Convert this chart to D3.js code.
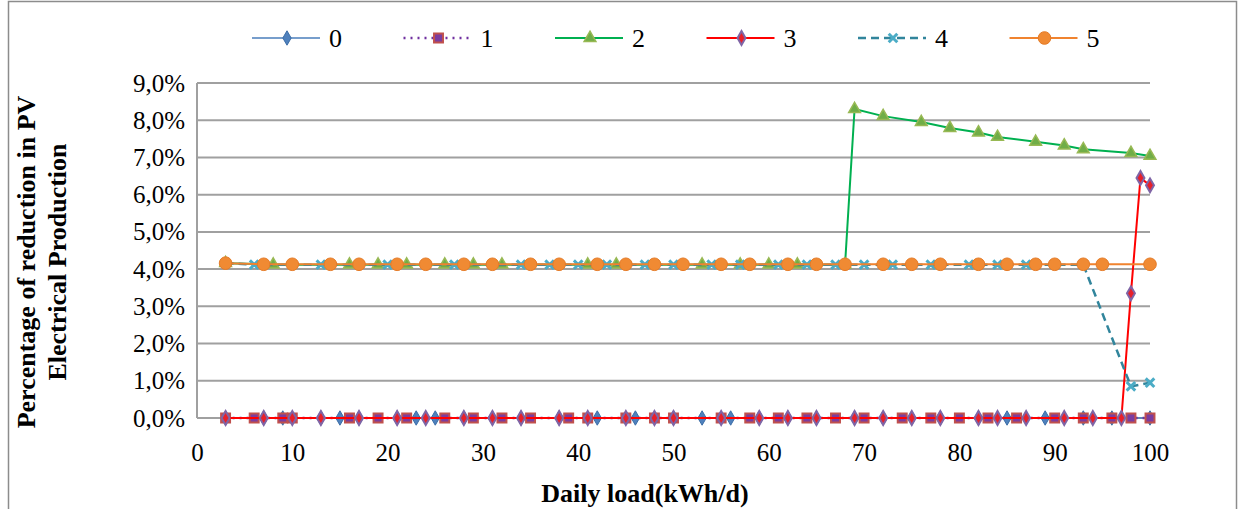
<!DOCTYPE html>
<html>
<head>
<meta charset="utf-8">
<script src="https://cdn.jsdelivr.net/npm/d3@7"></script>
<style>
  body { margin: 0; background: #fff; }
  svg { display: block; font-family: "Liberation Serif", "Times New Roman", serif; }
</style>
</head>
<body>
<svg id="chart" width="1245" height="509"></svg>
<script>
// ── Data ─────────────────────────────────────────────────────────────────────
const seriesNames = ["0", "1", "2", "3", "4", "5"];
const xTicks = [0, 10, 20, 30, 40, 50, 60, 70, 80, 90, 100];
const yTicks = [0, 1, 2, 3, 4, 5, 6, 7, 8, 9];   // percent

const s0X = [3, 7, 9, 13, 15, 17, 21, 23, 25, 28, 31, 34, 38, 42, 46, 50, 53, 56, 59, 62, 65, 69, 72, 75, 78, 82, 85, 89, 93, 96, 100];
const s0Y = [0, 0, 0, 0, 0, 0, 0, 0, 0, 0, 0, 0, 0, 0, 0, 0, 0, 0, 0, 0, 0, 0, 0, 0, 0, 0, 0, 0, 0, 0, 0];

const s1X = [3, 6, 9, 10, 16, 19, 22, 26, 29, 32, 35, 39, 41, 45, 48, 50, 55, 58, 61, 64, 67, 70, 74, 77, 80, 83, 86, 90, 93, 96, 98, 100];
const s1Y = [0, 0, 0, 0, 0, 0, 0, 0, 0, 0, 0, 0, 0, 0, 0, 0, 0, 0, 0, 0, 0, 0, 0, 0, 0, 0, 0, 0, 0, 0, 0, 0];

const s2X = [3, 8, 16, 19, 22, 26, 29, 32, 41, 44, 53, 57, 60, 63, 68, 69, 72, 76, 79, 82, 84, 88, 91, 93, 98, 100];
const s2Y = [4.16, 4.12, 4.12, 4.12, 4.12, 4.12, 4.12, 4.12, 4.12, 4.12, 4.12, 4.12, 4.12, 4.12, 4.12,
             8.30, 8.11, 7.95, 7.79, 7.67, 7.55, 7.42, 7.32, 7.22, 7.12, 7.04];

const s3X = [3, 7, 10, 13, 17, 21, 24, 28, 31, 34, 38, 41, 45, 48, 50, 55, 59, 62, 65, 69, 72, 75, 78, 82, 84, 87, 91, 94, 97, 98, 99, 100];
const s3Y = [0, 0, 0, 0, 0, 0, 0, 0, 0, 0, 0, 0, 0, 0, 0, 0, 0, 0, 0, 0, 0, 0, 0, 0, 0, 0, 0, 0, 0, 3.35, 6.45, 6.25];

const s4X = [3, 6, 13, 20, 27, 34, 37, 40, 43, 47, 50, 54, 57, 61, 64, 67, 70, 73, 77, 81, 84, 87, 90, 93, 98, 100];
const s4Y = [4.16, 4.12, 4.12, 4.12, 4.12, 4.12, 4.12, 4.12, 4.12, 4.12, 4.12, 4.12, 4.12, 4.12, 4.12, 4.12,
             4.12, 4.12, 4.12, 4.12, 4.12, 4.12, 4.12, 4.12, 0.85, 0.95];

const s5X = [3, 7, 10, 14, 17, 21, 24, 28, 31, 35, 38, 42, 45, 48, 51, 55, 58, 62, 65, 68, 72, 75, 78, 82, 85, 88, 90, 93, 95, 100];
const s5Y = [4.16, 4.13, 4.13, 4.13, 4.13, 4.13, 4.13, 4.13, 4.13, 4.13, 4.13, 4.13, 4.13, 4.13, 4.13,
             4.13, 4.13, 4.13, 4.13, 4.13, 4.13, 4.13, 4.13, 4.13, 4.13, 4.13, 4.13, 4.13, 4.13, 4.13];

// ── Styles per series ────────────────────────────────────────────────────────
const styles = [
  { line: "#4A7EBB", dash: null,    width: 1.5, sym: d3.symbolDiamond,  size: 60, fill: "#4F81BD", stroke: "#3C6EA8", sw: 1 },
  { line: "#7030A0", dash: "2,5",   width: 2.5, sym: d3.symbolSquare,   size: 80, fill: "#7A3CA0", stroke: "#C0504D", sw: 2 },
  { line: "#00B050", dash: null,    width: 2,   sym: d3.symbolTriangle, size: 60, fill: "#70AD47", stroke: "#98B954", sw: 1.5 },
  { line: "#FF0000", dash: null,    width: 2,   sym: d3.symbolDiamond,  size: 55, fill: "#E8202A", stroke: "#7F65A6", sw: 2 },
  { line: "#31859C", dash: "8,5",   width: 2.5, sym: d3.symbolX,        size: 50, fill: "none",    stroke: "#4BACC6", sw: 3 },
  { line: "#F0832F", dash: null,    width: 2,   sym: d3.symbolCircle,   size: 125, fill: "#F08A33", stroke: "#E57B27", sw: 1 }
];

const series = [
  { name: seriesNames[0], xs: s0X, ys: s0Y },
  { name: seriesNames[1], xs: s1X, ys: s1Y },
  { name: seriesNames[2], xs: s2X, ys: s2Y },
  { name: seriesNames[3], xs: s3X, ys: s3Y },
  { name: seriesNames[4], xs: s4X, ys: s4Y },
  { name: seriesNames[5], xs: s5X, ys: s5Y }
].map((s, i) => ({ ...s, style: styles[i], pts: s.xs.map((x, j) => [x, s.ys[j]]) }));

// ── Layout ───────────────────────────────────────────────────────────────────
const svg = d3.select("#chart");
const x = d3.scaleLinear().domain([0, 100]).range([197, 1150]);
const y = d3.scaleLinear().domain([0, 9]).range([418, 83]);

// outer chart border
svg.append("rect")
  .attr("x", 8.5).attr("y", 1.5).attr("width", 1228).attr("height", 540)
  .attr("fill", "none").attr("stroke", "#8C8C8C").attr("stroke-width", 1.5);

// ── Gridlines & axes ─────────────────────────────────────────────────────────
svg.append("g")
  .selectAll("line")
  .data(yTicks)
  .join("line")
  .attr("x1", x(0)).attr("x2", x(100))
  .attr("y1", d => y(d)).attr("y2", d => y(d))
  .attr("stroke", "#A0A0A0").attr("stroke-width", 2);

svg.append("line")
  .attr("x1", x(0)).attr("x2", x(0)).attr("y1", y(9)).attr("y2", y(0))
  .attr("stroke", "#A0A0A0").attr("stroke-width", 2);

const yAxis = d3.axisLeft(y).tickValues(yTicks).tickSize(0).tickPadding(12)
  .tickFormat(d => d3.format(".1f")(d).replace(".", ",") + "%");
svg.append("g").attr("transform", `translate(${x(0)},0)`).call(yAxis)
  .call(g => g.select(".domain").remove())
  .selectAll("text")
  .attr("font-family", "Liberation Serif, serif").attr("font-size", 25).attr("fill", "#000");

const xAxis = d3.axisBottom(x).tickValues(xTicks).tickSize(0).tickPadding(25);
svg.append("g").attr("transform", `translate(0,${y(0)})`).call(xAxis)
  .call(g => g.select(".domain").remove())
  .selectAll("text")
  .attr("font-family", "Liberation Serif, serif").attr("font-size", 25).attr("fill", "#000");

// ── Series lines and markers ─────────────────────────────────────────────────
const lineGen = d3.line().x(d => x(d[0])).y(d => y(d[1]));

series.forEach(s => {
  const g = svg.append("g");
  g.append("path")
    .attr("d", lineGen(s.pts))
    .attr("fill", "none")
    .attr("stroke", s.style.line)
    .attr("stroke-width", s.style.width)
    .attr("stroke-dasharray", s.style.dash);
  g.selectAll("path.mk")
    .data(s.pts)
    .join("path")
    .attr("class", "mk")
    .attr("transform", d => `translate(${x(d[0])},${y(d[1])})`)
    .attr("d", d3.symbol().type(s.style.sym).size(s.style.size))
    .attr("fill", s.style.fill)
    .attr("stroke", s.style.stroke)
    .attr("stroke-width", s.style.sw);
});

// ── Legend ───────────────────────────────────────────────────────────────────
const legend = svg.append("g").attr("transform", "translate(252,38)");
series.forEach((s, i) => {
  const g = legend.append("g").attr("transform", `translate(${i * 151.5},0)`);
  g.append("line").attr("x1", 0).attr("x2", 68)
    .attr("stroke", s.style.line).attr("stroke-width", s.style.width)
    .attr("stroke-dasharray", s.style.dash);
  g.append("path")
    .attr("transform", "translate(35,0)")
    .attr("d", d3.symbol().type(s.style.sym).size(s.style.size))
    .attr("fill", s.style.fill)
    .attr("stroke", s.style.stroke)
    .attr("stroke-width", s.style.sw);
  g.append("text").attr("x", 77).attr("y", 9)
    .attr("font-size", 26).attr("fill", "#000").text(s.name);
});

// ── Axis titles ──────────────────────────────────────────────────────────────
svg.append("text")
  .attr("x", 645).attr("y", 502)
  .attr("text-anchor", "middle").attr("font-weight", "bold").attr("font-size", 26)
  .text("Daily load(kWh/d)");

const yTitle = svg.append("text")
  .attr("transform", "translate(0,262) rotate(-90)")
  .attr("text-anchor", "middle").attr("font-weight", "bold").attr("font-size", 26);
yTitle.append("tspan").attr("x", 0).attr("y", 35).text("Percentage of reduction in PV");
yTitle.append("tspan").attr("x", 0).attr("y", 66).text("Electrical Production");
</script>
</body>
</html>
